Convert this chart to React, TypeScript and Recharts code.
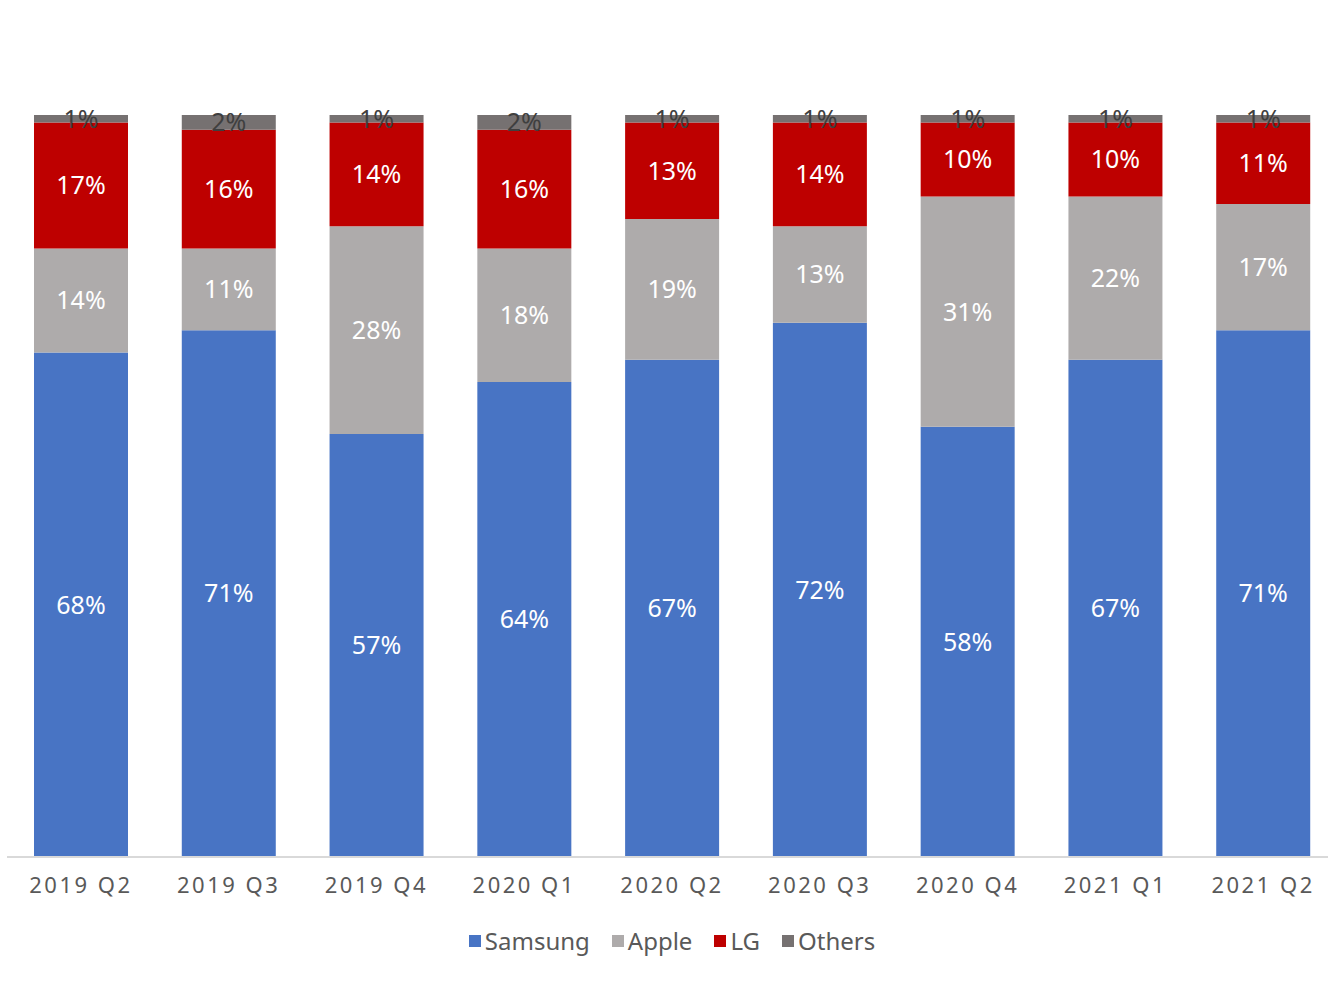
import { BarChart, Bar, XAxis, YAxis, LabelList } from 'recharts';

const quarters = ['2019 Q2', '2019 Q3', '2019 Q4', '2020 Q1', '2020 Q2', '2020 Q3', '2020 Q4', '2021 Q1', '2021 Q2'];
const samsung = [68, 71, 57, 64, 67, 72, 58, 67, 71];
const apple = [14, 11, 28, 18, 19, 13, 31, 22, 17];
const lg = [17, 16, 14, 16, 13, 14, 10, 10, 11];
const others = [1, 2, 1, 2, 1, 1, 1, 1, 1];

const series = [
  { key: 'samsung', name: 'Samsung', color: '#4874C4', label: '#ffffff' },
  { key: 'apple', name: 'Apple', color: '#AEABAB', label: '#ffffff' },
  { key: 'lg', name: 'LG', color: '#BE0000', label: '#ffffff' },
  { key: 'others', name: 'Others', color: '#767171', label: '#3f3f3f' },
];

const data = quarters.map((q, i) => ({
  q,
  samsung: samsung[i],
  apple: apple[i],
  lg: lg[i],
  others: others[i],
}));

const FONT = '"Noto Sans", "Noto Sans CJK KR", sans-serif';

function QuarterTick(props: any) {
  const { x, y, payload } = props;
  return (
    <text
      x={x}
      y={y}
      dy={28}
      textAnchor="middle"
      fontFamily={FONT}
      fontSize={22}
      letterSpacing={2.5}
      fill="#595959"
    >
      {payload.value}
    </text>
  );
}

function LegendBox() {
  return (
    <div
      style={{
        position: 'absolute',
        top: 924,
        left: 0,
        width: 1328,
        display: 'flex',
        justifyContent: 'center',
        gap: 22,
        fontFamily: FONT,
        fontSize: 24,
        color: '#595959',
        paddingLeft: 16,
        boxSizing: 'border-box',
      }}
    >
      {series.map((s) => (
        <span key={s.key} style={{ display: 'inline-flex', alignItems: 'center' }}>
          <span style={{ width: 12, height: 12, background: s.color, marginRight: 4, display: 'inline-block' }} />
          {s.name}
        </span>
      ))}
    </div>
  );
}

export default function App() {
  return (
    <div style={{ position: 'absolute', left: 0, top: 0, width: 1328, height: 999, overflow: 'hidden', background: '#fff' }}>
      <BarChart
        width={1340}
        height={999}
        data={data}
        margin={{ top: 115, right: 3, left: 7, bottom: 102 }}
        barCategoryGap={0}
      >
        <XAxis
          dataKey="q"
          axisLine={{ stroke: '#d9d9d9', strokeWidth: 2 }}
          tickLine={false}
          tick={<QuarterTick />}
          interval={0}
          height={40}
        />
        <YAxis hide domain={[0, 100]} />
        {series.map((s) => (
          <Bar key={s.key} dataKey={s.key} name={s.name} stackId="a" fill={s.color} barSize={94} isAnimationActive={false}>
            <LabelList
              dataKey={s.key}
              position="center"
              formatter={(v: any) => `${v}%`}
              fill={s.label}
              fontFamily={FONT}
              fontSize={25}
            />
          </Bar>
        ))}
      </BarChart>
      <LegendBox />
    </div>
  );
}
